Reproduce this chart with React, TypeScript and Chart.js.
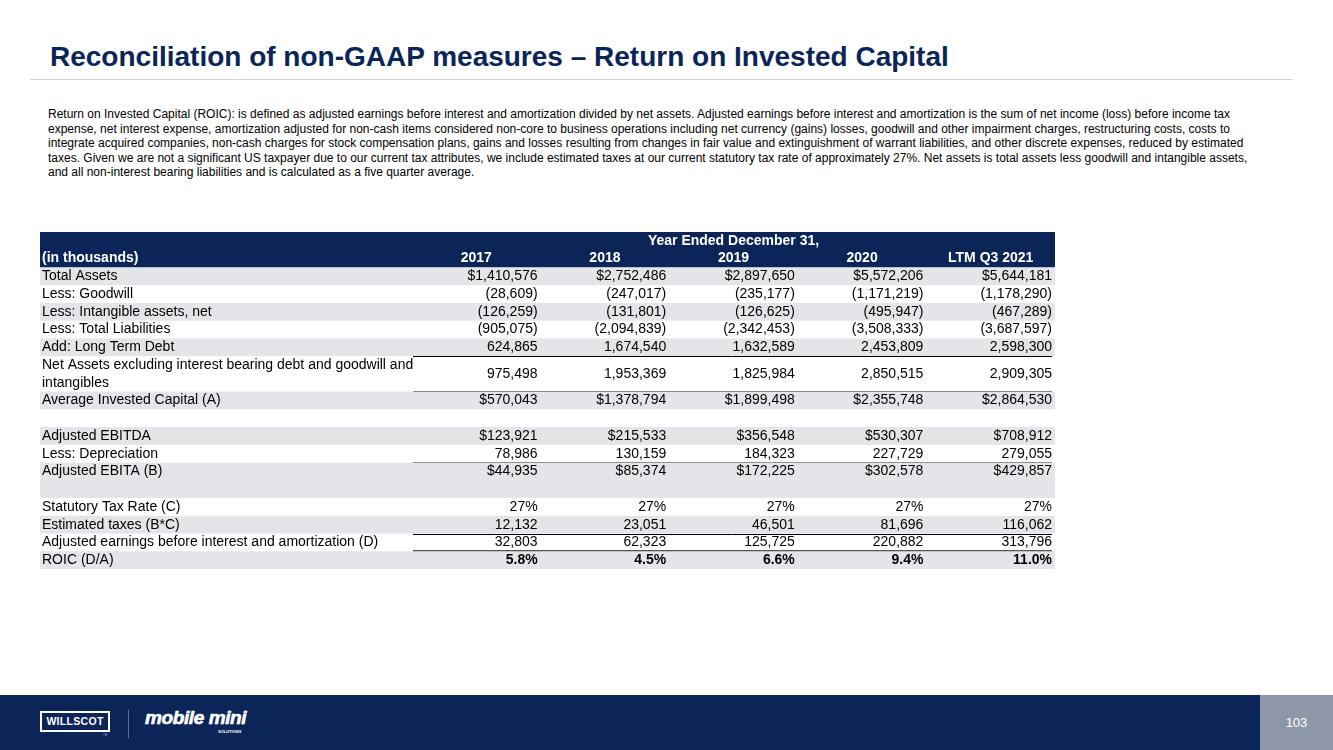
import React, { useEffect, useRef } from "react";
import { Chart, registerables } from "chart.js";

Chart.register(...registerables);

// ---------- data ----------
const TITLE = "Reconciliation of non-GAAP measures \u2013 Return on Invested Capital";
const PARAGRAPH_LINES = [
  "Return on Invested Capital (ROIC): is defined as adjusted earnings before interest and amortization divided by net assets. Adjusted earnings before interest and amortization is the sum of net income (loss) before income tax",
  "expense, net interest expense, amortization adjusted for non-cash items considered non-core to business operations including net currency (gains) losses, goodwill and other impairment charges, restructuring costs, costs to",
  "integrate acquired companies, non-cash charges for stock compensation plans, gains and losses resulting from changes in fair value and extinguishment of warrant liabilities, and other discrete expenses, reduced by estimated",
  "taxes. Given we are not a significant US taxpayer due to our current tax attributes, we include estimated taxes at our current statutory tax rate of approximately 27%. Net assets is total assets less goodwill and intangible assets,",
  "and all non-interest bearing liabilities and is calculated as a five quarter average.",
];
const HEADER_TITLE = "Year Ended December 31,";
const STUB_HEADER = "(in thousands)";
const COLUMN_LABELS = ["2017", "2018", "2019", "2020", "LTM Q3 2021"];
const ROW_LABELS = [
  "Total Assets",
  "Less: Goodwill",
  "Less: Intangible assets, net",
  "Less: Total Liabilities",
  "Add: Long Term Debt",
  "Net Assets excluding interest bearing debt and goodwill and\nintangibles",
  "Average Invested Capital (A)",
  "",
  "Adjusted EBITDA",
  "Less: Depreciation",
  "Adjusted EBITA (B)",
  "Statutory Tax Rate (C)",
  "Estimated taxes (B*C)",
  "Adjusted earnings before interest and amortization (D)",
  "ROIC (D/A)",
];
const VALUES_2017 = [1410576, -28609, -126259, -905075, 624865, 975498, 570043, null, 123921, 78986, 44935, 27, 12132, 32803, 5.8];
const VALUES_2018 = [2752486, -247017, -131801, -2094839, 1674540, 1953369, 1378794, null, 215533, 130159, 85374, 27, 23051, 62323, 4.5];
const VALUES_2019 = [2897650, -235177, -126625, -2342453, 1632589, 1825984, 1899498, null, 356548, 184323, 172225, 27, 46501, 125725, 6.6];
const VALUES_2020 = [5572206, -1171219, -495947, -3508333, 2453809, 2850515, 2355748, null, 530307, 227729, 302578, 27, 81696, 220882, 9.4];
const VALUES_LTM = [5644181, -1178290, -467289, -3687597, 2598300, 2909305, 2864530, null, 708912, 279055, 429857, 27, 116062, 313796, 11.0];
const ROW_FORMATS = ["usd", "num", "num", "num", "num", "num", "usd", "", "usd", "num", "usd", "pct0", "num", "num", "pct1"];
const PAGE_NUMBER = "103";

// ---------- layout / style ----------
const NAVY = "#0b2559";
const STRIPE = "#e4e5e9";
const FONT = "'Liberation Sans', Arial, Helvetica, sans-serif";
const HEADER_SPAN = 2;
const ROW_SPANS = [1, 1, 1, 1, 1, 2, 1, 1, 1, 1, 2, 1, 1, 1, 1];
const VALUE_VALIGN = ["c", "c", "c", "c", "c", "m", "c", "c", "c", "c", "t", "c", "c", "c", "c"];
const RULES: Record<number, string> = { 4: "thin", 5: "thick", 9: "thick", 12: "thin", 13: "thick" };
const BOLD_VALUE_ROWS = [14];
const STUB_UNITS = 2.893; // width of the label column, in value-column units

function fmt(v: number | null, kind: string): string {
  if (v === null || v === undefined) return "";
  if (kind === "pct0") return `${v}%`;
  if (kind === "pct1") return `${v.toFixed(1)}%`;
  const s = Math.abs(v).toLocaleString("en-US");
  if (v < 0) return `(${s})`;
  return kind === "usd" ? `$${s}` : s;
}

const tablePlugin = {
  id: "tableCells",
  beforeDraw(chart: any) {
    const { ctx } = chart;
    const x = chart.scales.x;
    const y = chart.scales.y;
    const columns = [VALUES_2017, VALUES_2018, VALUES_2019, VALUES_2020, VALUES_LTM];
    const left = x.getPixelForValue(-STUB_UNITS);
    const right = x.getPixelForValue(COLUMN_LABELS.length);
    ctx.save();
    // header band
    ctx.fillStyle = NAVY;
    ctx.fillRect(left, y.getPixelForValue(0), right - left, y.getPixelForValue(HEADER_SPAN) - y.getPixelForValue(0));
    ctx.fillStyle = "#ffffff";
    ctx.font = `bold 14px ${FONT}`;
    ctx.textBaseline = "middle";
    ctx.textAlign = "center";
    ctx.fillText(HEADER_TITLE, x.getPixelForValue(COLUMN_LABELS.length / 2), y.getPixelForValue(0.5));
    COLUMN_LABELS.forEach((c, i) => ctx.fillText(c, x.getPixelForValue(i + 0.5), y.getPixelForValue(1.5)));
    ctx.textAlign = "left";
    ctx.fillText(STUB_HEADER, left + 2, y.getPixelForValue(1.5));

    // rows
    let start = HEADER_SPAN;
    ROW_LABELS.forEach((label, r) => {
      const span = ROW_SPANS[r];
      const top = y.getPixelForValue(start);
      const bottom = y.getPixelForValue(start + span);
      if (r % 2 === 0) {
        ctx.fillStyle = STRIPE;
        ctx.fillRect(left, top, right - left, bottom - top);
      }
      ctx.fillStyle = "#000000";
      ctx.font = `14px ${FONT}`;
      ctx.textAlign = "left";
      label.split("\n").forEach((line, li) => {
        ctx.fillText(line, left + 2, y.getPixelForValue(start + li + 0.5));
      });
      const vy =
        VALUE_VALIGN[r] === "m"
          ? y.getPixelForValue(start + span / 2)
          : y.getPixelForValue(start + 0.5);
      ctx.textAlign = "right";
      ctx.font = `${BOLD_VALUE_ROWS.includes(r) ? "bold " : ""}14px ${FONT}`;
      columns.forEach((col, ci) => {
        ctx.fillText(fmt(col[r], ROW_FORMATS[r]), x.getPixelForValue(ci + 1) - 3, vy);
      });
      const rule = RULES[r];
      if (rule) {
        ctx.beginPath();
        ctx.strokeStyle = rule === "thin" ? "#000000" : "#555555";
        ctx.lineWidth = rule === "thin" ? 1 : 2;
        const ly = Math.round(bottom) + (rule === "thin" ? 0.5 : 0);
        ctx.moveTo(x.getPixelForValue(0) + 1, ly);
        ctx.lineTo(right - 3, ly);
        ctx.stroke();
      }
      start += span;
    });
    ctx.restore();
  },
};

function TableChart() {
  const ref = useRef<HTMLCanvasElement | null>(null);
  useEffect(() => {
    if (!ref.current) return;
    const totalUnits = HEADER_SPAN + ROW_SPANS.reduce((a, b) => a + b, 0);
    const chart = new Chart(ref.current, {
      type: "scatter",
      data: { datasets: [{ data: [], pointRadius: 0 }] },
      options: {
        animation: false,
        responsive: false,
        maintainAspectRatio: false,
        events: [],
        layout: { padding: 0 },
        plugins: { legend: { display: false }, tooltip: { enabled: false }, title: { display: false } },
        scales: {
          x: { type: "linear", min: -STUB_UNITS, max: COLUMN_LABELS.length, display: false },
          y: { type: "linear", min: 0, max: totalUnits, reverse: true, display: false },
        },
      },
      plugins: [tablePlugin],
    });
    return () => chart.destroy();
  }, []);
  return (
    <canvas
      ref={ref}
      width={1015}
      height={337}
      style={{ position: "absolute", left: 40, top: 232, width: 1015, height: 337 }}
    />
  );
}

export default function App() {
  return (
    <div
      style={{
        position: "fixed",
        left: 0,
        top: 0,
        width: 1333,
        height: 750,
        background: "#ffffff",
        overflow: "hidden",
        fontFamily: FONT,
      }}
    >
      <div
        style={{
          position: "absolute",
          left: 50,
          top: 43,
          fontSize: 28,
          lineHeight: "28px",
          fontWeight: "bold",
          color: NAVY,
          whiteSpace: "nowrap",
        }}
      >
        {TITLE}
      </div>
      <div style={{ position: "absolute", left: 30, top: 79, width: 1263, height: 1, background: "#d6d6d6" }} />
      <div
        style={{
          position: "absolute",
          left: 48,
          top: 107,
          fontSize: 12,
          lineHeight: "14.5px",
          color: "#000000",
          whiteSpace: "nowrap",
        }}
      >
        {PARAGRAPH_LINES.map((l, i) => (
          <div key={i}>{l}</div>
        ))}
      </div>
      <TableChart />
      <div style={{ position: "absolute", left: 0, top: 695, width: 1333, height: 55, background: NAVY }}>
        <div
          style={{
            position: "absolute",
            left: 40,
            top: 16,
            width: 66,
            height: 17,
            border: "2px solid #ffffff",
            color: "#ffffff",
            fontWeight: "bold",
            fontSize: 10.5,
            lineHeight: "17px",
            textAlign: "center",
            letterSpacing: 0.3,
          }}
        >
          WILLSCOT
        </div>
        <div style={{ position: "absolute", left: 103, top: 38, color: "#9aa5c0", fontSize: 3 }}>TM</div>
        <div style={{ position: "absolute", left: 128, top: 15, width: 1, height: 28, background: "#5c6f99" }} />
        <div
          style={{
            position: "absolute",
            left: 145,
            top: 13,
            color: "#ffffff",
            fontWeight: "bold",
            fontStyle: "italic",
            fontSize: 19,
            lineHeight: "20px",
            letterSpacing: -0.4,
            WebkitTextStroke: "0.6px #ffffff",
            whiteSpace: "nowrap",
          }}
        >
          mobile mini
        </div>
        <div
          style={{
            position: "absolute",
            left: 218,
            top: 34,
            color: "#ffffff",
            fontWeight: "bold",
            fontSize: 4,
            lineHeight: "5px",
          }}
        >
          SOLUTIONS
        </div>
        <div
          style={{
            position: "absolute",
            left: 1260,
            top: 0,
            width: 73,
            height: 55,
            background: "#8e96aa",
            color: "#ffffff",
            fontSize: 13,
            lineHeight: "55px",
            textAlign: "center",
          }}
        >
          {PAGE_NUMBER}
        </div>
      </div>
    </div>
  );
}
